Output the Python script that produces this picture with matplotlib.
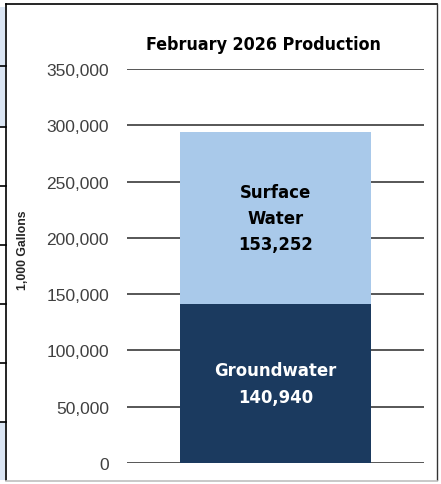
import matplotlib
matplotlib.use("Agg")
import matplotlib.pyplot as plt
from matplotlib.lines import Line2D
from matplotlib.patches import Rectangle
from matplotlib.ticker import FuncFormatter
from matplotlib import font_manager

categories = ["February 2026"]
groundwater = [140940]
surface_water = [153252]
yticks = [0, 50000, 100000, 150000, 200000, 250000, 300000, 350000]
title = "February 2026 Production"
ylabel = "1,000 Gallons"

names = {f.name for f in font_manager.fontManager.ttflist}
narrow = "Liberation Sans Narrow" if "Liberation Sans Narrow" in names else "DejaVu Sans"
narrow_kw = {} if narrow != "DejaVu Sans" else {"stretch": "condensed"}

W, H = 441, 485
fig = plt.figure(figsize=(W / 100, H / 100), dpi=100)

def fx(px):
    return px / W

def fy(py):
    return 1 - py / H

# spreadsheet strip at left
fig.patches.append(Rectangle((0, fy(128)), fx(5), fy(8) - fy(128), transform=fig.transFigure,
                             facecolor="#dae5f3", edgecolor="none"))
fig.patches.append(Rectangle((0, fy(481)), fx(5), fy(423) - fy(481), transform=fig.transFigure,
                             facecolor="#dae5f3", edgecolor="none"))
for py in [67, 128, 187, 246, 305, 364, 423]:
    fig.lines.append(Line2D([0, fx(6)], [fy(py), fy(py)], transform=fig.transFigure,
                            color="black", lw=1.2))
# chart border
fig.lines.append(Line2D([fx(5.5), fx(5.5)], [fy(5), fy(481)], transform=fig.transFigure, color="black", lw=1.2))
fig.lines.append(Line2D([fx(5.5), fx(437)], [fy(5), fy(5)], transform=fig.transFigure, color="black", lw=1.2))
fig.lines.append(Line2D([fx(437), fx(437)], [fy(5), fy(481)], transform=fig.transFigure, color="#333333", lw=1.0))
fig.lines.append(Line2D([fx(5.5), fx(437)], [fy(481.5), fy(481.5)], transform=fig.transFigure, color="#bfbfbf", lw=1.2))

ax = fig.add_axes([fx(127), fy(464), fx(424) - fx(127), fy(70) - fy(464)])
ax.set_ylim(0, 350000)
ax.set_xlim(-0.5, 0.5)
ax.set_yticks(yticks)
ax.yaxis.set_major_formatter(FuncFormatter(lambda v, p: f"{int(v):,}"))
ax.grid(axis="y", color="#3a3a3a", lw=1.2)
ax.set_axisbelow(True)
for s in ax.spines.values():
    s.set_visible(False)
ax.tick_params(axis="y", length=0, pad=13, labelsize=12.5, labelcolor="#404040")
for lab in ax.get_yticklabels():
    lab.set_fontfamily("Liberation Sans")
ax.set_xticks([])

x = [0]
ax.bar(x, groundwater, width=0.64, color="#1b3a5f", zorder=3)
ax.bar(x, surface_water, bottom=groundwater, width=0.64, color="#a9c9ea", zorder=3)

ax.text(0, groundwater[0] / 2, f"Groundwater\n{groundwater[0]:,}", ha="center", va="center",
        color="white", fontsize=13.2, fontweight="bold", family=narrow, linespacing=1.6,
        zorder=4, **narrow_kw)
ax.text(0, groundwater[0] + surface_water[0] * 0.5, f"Surface\nWater\n{surface_water[0]:,}",
        ha="center", va="center", color="black", fontsize=13.2, fontweight="bold", family=narrow,
        linespacing=1.6, zorder=4, **narrow_kw)

fig.text(fx(263.5), fy(45), title, ha="center", va="center", fontsize=12.8, fontweight="bold",
         family=narrow, color="black", **narrow_kw)
fig.text(fx(23), fy(250), ylabel, ha="center", va="center", rotation=90, fontsize=8.8,
         fontweight="bold", family="Liberation Sans", color="#262626")

fig.savefig("out.png", dpi=100)
